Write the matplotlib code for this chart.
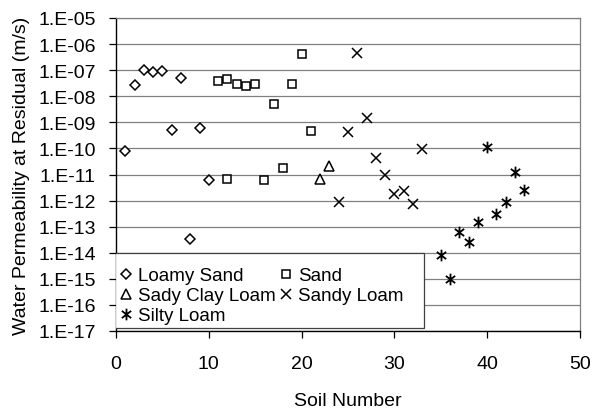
import matplotlib
matplotlib.use("Agg")
import matplotlib.pyplot as plt
from matplotlib.path import Path
from matplotlib.patches import Rectangle
from matplotlib.ticker import FixedLocator, FuncFormatter, NullLocator
import numpy as np

plt.rcParams['font.family'] = ['Liberation Sans', 'DejaVu Sans']

# ---- data ----
loamy_sand_x = [1, 2, 3, 4, 5, 6, 7, 8, 9, 10]
loamy_sand_y = [8.3e-11, 2.7e-8, 1.0e-7, 8.7e-8, 9.1e-8, 5.0e-10, 4.9e-8, 3.4e-14, 5.9e-10, 5.9e-12]

sand_x = [11, 12, 13, 14, 15, 12, 16, 17, 18, 19, 20, 21]
sand_y = [4.0e-8, 4.6e-8, 3.0e-8, 2.5e-8, 3.0e-8, 6.5e-12, 6.3e-12, 4.9e-9, 1.8e-11, 3.0e-8, 4.3e-7, 4.6e-10]

sady_clay_loam_x = [22, 23]
sady_clay_loam_y = [6.6e-12, 2.2e-11]

sandy_loam_x = [24, 25, 26, 27, 28, 29, 30, 31, 32, 33]
sandy_loam_y = [8.7e-13, 4.2e-10, 4.6e-7, 1.45e-9, 4.2e-11, 1.0e-11, 1.8e-12, 2.4e-12, 7.4e-13, 9.5e-11]

silty_loam_x = [35, 36, 37, 38, 39, 40, 41, 42, 43, 44]
silty_loam_y = [8.5e-15, 1.0e-15, 6.1e-14, 2.6e-14, 1.5e-13, 1.1e-10, 3.1e-13, 8.7e-13, 1.3e-11, 2.6e-12]

x_ticks = [0, 10, 20, 30, 40, 50]
y_exponents = list(range(-17, -4))

# ---- figure ----
W, H = 592, 410
fig = plt.figure(figsize=(W / 100, H / 100), dpi=100)
ax = fig.add_axes([116 / W, 1 - 332 / H, (580 - 116) / W, (332 - 19) / H])

star = Path([(0, -1), (0, 1), (-0.8, -0.62), (0.8, 0.62), (-0.8, 0.62), (0.8, -0.62)],
            [Path.MOVETO, Path.LINETO, Path.MOVETO, Path.LINETO, Path.MOVETO, Path.LINETO])

mew = 1.1
h1, = ax.plot(loamy_sand_x, loamy_sand_y, ls='none', marker='D', ms=4.8, mfc='white',
              mec='black', mew=mew, label='Loamy Sand', zorder=5)
h2, = ax.plot(sand_x, sand_y, ls='none', marker='s', ms=6.0, mfc='white',
              mec='black', mew=mew, label='Sand', zorder=5)
h3, = ax.plot(sady_clay_loam_x, sady_clay_loam_y, ls='none', marker='^', ms=6.8, mfc='white',
              mec='black', mew=mew, label='Sady Clay Loam', zorder=5)
h4, = ax.plot(sandy_loam_x, sandy_loam_y, ls='none', marker='x', ms=7.5,
              mec='black', mew=mew, label='Sandy Loam', zorder=5)
h5, = ax.plot(silty_loam_x, silty_loam_y, ls='none', marker=star, ms=8.4,
              mec='black', mfc='none', mew=1.3, label='Silty Loam', zorder=5)

ax.set_yscale('log')
ax.set_ylim(10.0 ** min(y_exponents), 10.0 ** max(y_exponents))
ax.set_xlim(x_ticks[0], x_ticks[-1])
ax.yaxis.set_major_locator(FixedLocator([10.0 ** e for e in y_exponents]))
ax.yaxis.set_minor_locator(NullLocator())
ax.yaxis.set_major_formatter(FuncFormatter(lambda v, p: "1.E%+03d" % int(round(np.log10(v)))))
ax.set_xticks(x_ticks)

ax.grid(axis='y', color='#808080', lw=0.9, zorder=0)
ax.set_axisbelow(True)

for s in ['left', 'bottom']:
    ax.spines[s].set_color('black')
    ax.spines[s].set_linewidth(1.0)
for s in ['top', 'right']:
    ax.spines[s].set_color('#808080')
    ax.spines[s].set_linewidth(0.9)

ax.tick_params(axis='y', direction='out', length=5, width=0.9, labelsize=14, pad=9.5)
ax.tick_params(axis='x', direction='out', length=5, width=0.9, labelsize=14, pad=12)

ax.set_xlabel('Soil Number', fontsize=14, labelpad=15)
ax.set_ylabel('Water Permeability at Residual (m/s)', fontsize=14, labelpad=6)

# legend box
box = Rectangle((-0.002, 0.010), 0.666, 0.238, transform=ax.transAxes,
                facecolor='white', edgecolor='#404040', lw=0.9, zorder=6)
ax.add_patch(box)
leg = ax.legend([h1, h3, h5, h2, h4],
                ['Loamy Sand', 'Sady Clay Loam', 'Silty Loam', 'Sand', 'Sandy Loam'],
                ncol=2, loc='lower left', bbox_to_anchor=(-0.002, 0.010),
                frameon=False, fontsize=13.5, numpoints=1, handlelength=0.75,
                handletextpad=0.25, columnspacing=0.2, labelspacing=0.15,
                borderpad=0.2, borderaxespad=0)
leg.set_zorder(7)

fig.savefig('out.png', dpi=100)
